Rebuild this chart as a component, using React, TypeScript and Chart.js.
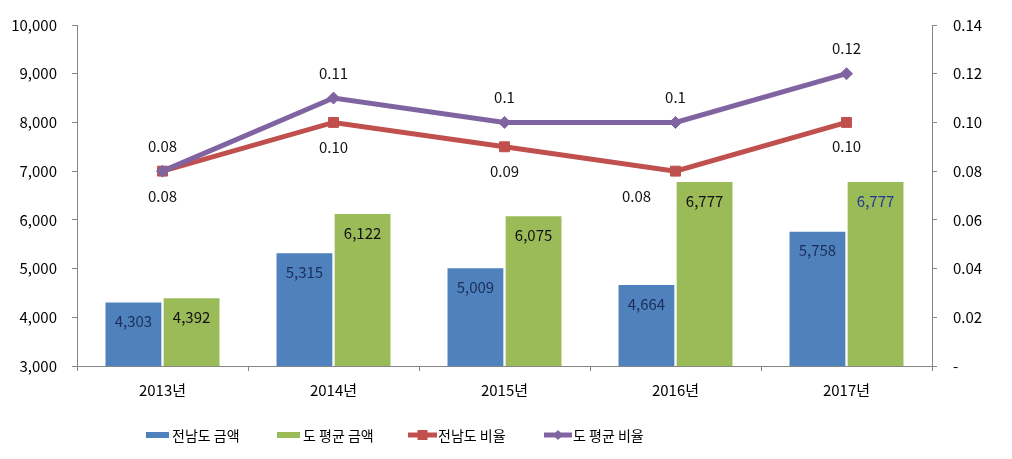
import React, { useEffect, useRef } from 'react';
import { Chart, registerables } from 'chart.js';

Chart.register(...registerables);

// ---------- data ----------
const categories = ['2013년', '2014년', '2015년', '2016년', '2017년'];
const jeonnamAmount = [4303, 5315, 5009, 4664, 5758];
const avgAmount = [4392, 6122, 6075, 6777, 6777];
const jeonnamRatio = [0.08, 0.10, 0.09, 0.08, 0.10];
const avgRatio = [0.08, 0.11, 0.10, 0.10, 0.12];
const jeonnamAmountLabels = ['4,303', '5,315', '5,009', '4,664', '5,758'];
const avgAmountLabels = ['4,392', '6,122', '6,075', '6,777', '6,777'];
const jeonnamRatioLabels = ['0.08', '0.10', '0.09', '0.08', '0.10'];
const avgRatioLabels = ['0.08', '0.11', '0.1', '0.1', '0.12'];
const seriesNames = ['전남도 금액', '도 평균 금액', '전남도 비율', '도 평균 비율'];
const leftAxisRange = [3000, 10000];
const rightAxisRange = [0, 0.14];

// ---------- styles ----------
const FONT = '"Noto Sans CJK KR", "Noto Sans", sans-serif';
const BLUE = '#4F81BD';
const GREEN = '#9BBB59';
const RED = '#C0504D';
const PURPLE = '#8064A2';
const AXIS = '#868686';

// label styling per dataset index: text, colour, offsets
const labelStyles: Record<number, { texts: string[]; colors: string[]; dx: number[]; dy: number[] }> = {
  0: { texts: avgRatioLabels, colors: Array(5).fill('#111'), dx: [0, 0, 0, 0, 0], dy: [-25, -25, -25, -25, -25] },
  1: { texts: jeonnamRatioLabels, colors: Array(5).fill('#111'), dx: [0, 0, 0, -39, 0], dy: [25, 25, 25, 25, 24] },
  2: { texts: jeonnamAmountLabels, colors: Array(5).fill('#1B2E5A'), dx: [0, 0, 0, 0, 0], dy: [19, 19, 19, 19, 19] },
  3: { texts: avgAmountLabels, colors: ['#111', '#111', '#111', '#111', '#1F3A93'], dx: [0, 0, 0, 0, 0], dy: [19, 19, 19, 19, 19] },
};

const valueLabelPlugin = {
  id: 'valueLabels',
  afterDatasetsDraw(chart: any) {
    const ctx = chart.ctx;
    ctx.save();
    ctx.font = `15px ${FONT}`;
    ctx.textAlign = 'center';
    ctx.textBaseline = 'middle';
    chart.data.datasets.forEach((_ds: any, i: number) => {
      const st = labelStyles[i];
      if (!st) return;
      const meta = chart.getDatasetMeta(i);
      meta.data.forEach((el: any, j: number) => {
        const { x, y } = el.getProps(['x', 'y'], true);
        ctx.fillStyle = st.colors[j];
        ctx.fillText(st.texts[j], x + st.dx[j], y + st.dy[j]);
      });
    });
    ctx.restore();
  },
};

// custom legend (Excel style)
const legendLayout = [
  { ds: 2, kind: 'box', x0: 146, x1: 169, tx: 172 },
  { ds: 3, kind: 'box', x0: 277, x1: 300, tx: 303 },
  { ds: 1, kind: 'rect', x0: 408, x1: 437, tx: 438 },
  { ds: 0, kind: 'diamond', x0: 544, x1: 572, tx: 573 },
];

const customLegendPlugin = {
  id: 'customLegend',
  afterDraw(chart: any) {
    const ctx = chart.ctx;
    const cy = 435;
    ctx.save();
    ctx.font = `14px ${FONT}`;
    ctx.textBaseline = 'middle';
    ctx.textAlign = 'left';
    legendLayout.forEach((it) => {
      const ds = chart.data.datasets[it.ds];
      const color = it.kind === 'box' ? ds.backgroundColor : ds.borderColor;
      if (it.kind === 'box') {
        ctx.fillStyle = color;
        ctx.fillRect(it.x0, cy - 3, it.x1 - it.x0, 6);
      } else {
        ctx.strokeStyle = color;
        ctx.lineWidth = 5;
        ctx.beginPath();
        ctx.moveTo(it.x0, cy);
        ctx.lineTo(it.x1, cy);
        ctx.stroke();
        ctx.fillStyle = color;
        const mx = (it.x0 + it.x1) / 2;
        if (it.kind === 'rect') {
          ctx.fillRect(mx - 5, cy - 5, 10, 10);
        } else {
          ctx.beginPath();
          ctx.moveTo(mx, cy - 5);
          ctx.lineTo(mx + 5, cy);
          ctx.lineTo(mx, cy + 5);
          ctx.lineTo(mx - 5, cy);
          ctx.closePath();
          ctx.fill();
        }
      }
      ctx.fillStyle = '#000';
      ctx.fillText(ds.label, it.tx, cy + 1);
    });
    ctx.restore();
  },
};

export default function App() {
  const ref = useRef<HTMLCanvasElement | null>(null);

  useEffect(() => {
    if (!ref.current) return;
    const chart = new Chart(ref.current, {
      type: 'bar',
      data: {
        labels: categories,
        datasets: [
          {
            type: 'line',
            label: seriesNames[3],
            data: avgRatio,
            yAxisID: 'y1',
            borderColor: PURPLE,
            backgroundColor: PURPLE,
            borderWidth: 5,
            pointStyle: 'rectRot',
            pointRadius: 6,
            pointBackgroundColor: PURPLE,
            pointBorderColor: PURPLE,
            pointBorderWidth: 1,
            tension: 0,
            order: 0,
          } as any,
          {
            type: 'line',
            label: seriesNames[2],
            data: jeonnamRatio,
            yAxisID: 'y1',
            borderColor: RED,
            backgroundColor: RED,
            borderWidth: 5,
            pointStyle: 'rect',
            pointRadius: 7,
            pointBackgroundColor: RED,
            pointBorderColor: RED,
            pointBorderWidth: 1,
            tension: 0,
            order: 1,
          } as any,
          {
            type: 'bar',
            label: seriesNames[0],
            data: jeonnamAmount,
            yAxisID: 'y',
            backgroundColor: BLUE,
            barPercentage: 0.96,
            categoryPercentage: 0.68,
            order: 2,
          },
          {
            type: 'bar',
            label: seriesNames[1],
            data: avgAmount,
            yAxisID: 'y',
            backgroundColor: GREEN,
            barPercentage: 0.96,
            categoryPercentage: 0.68,
            order: 3,
          },
        ],
      },
      options: {
        responsive: false,
        animation: false,
        layout: { padding: { top: 24, left: 0, right: 0, bottom: 48 } },
        plugins: {
          legend: { display: false },
          tooltip: { enabled: false },
        },
        scales: {
          x: {
            offset: true,
            grid: { display: true, drawOnChartArea: false, drawTicks: true, tickLength: 5, offset: true, color: AXIS },
            border: { display: true, color: AXIS },
            ticks: { font: { family: FONT, size: 15 }, color: '#000', padding: 10 },
            afterFit: (s: any) => { s.height = 45; },
          },
          y: {
            position: 'left',
            min: leftAxisRange[0],
            max: leftAxisRange[1],
            grid: { display: true, drawOnChartArea: false, drawTicks: true, tickLength: 5, color: AXIS },
            border: { display: true, color: AXIS },
            ticks: {
              stepSize: 1000,
              padding: 15,
              color: '#000',
              font: { family: FONT, size: 15 },
              callback: (v: any) => Number(v).toLocaleString('en-US'),
            },
            afterFit: (s: any) => { s.width = 77; },
          },
          y1: {
            position: 'right',
            min: rightAxisRange[0],
            max: rightAxisRange[1],
            grid: { display: true, drawOnChartArea: false, drawTicks: true, tickLength: 5, color: AXIS },
            border: { display: true, color: AXIS },
            ticks: {
              stepSize: 0.02,
              padding: 16,
              color: '#000',
              font: { family: FONT, size: 15 },
              callback: (v: any) => (Math.abs(Number(v)) < 1e-9 ? '-' : Number(v).toFixed(2)),
            },
            afterFit: (s: any) => { s.width = 80; },
          },
        },
      },
      plugins: [valueLabelPlugin, customLegendPlugin],
    });
    return () => chart.destroy();
  }, []);

  return (
    <div style={{ position: 'absolute', left: 0, top: 0, width: 1012, height: 459, background: '#fff' }}>
      <canvas ref={ref} width={1012} height={459} style={{ display: 'block' }} />
    </div>
  );
}
